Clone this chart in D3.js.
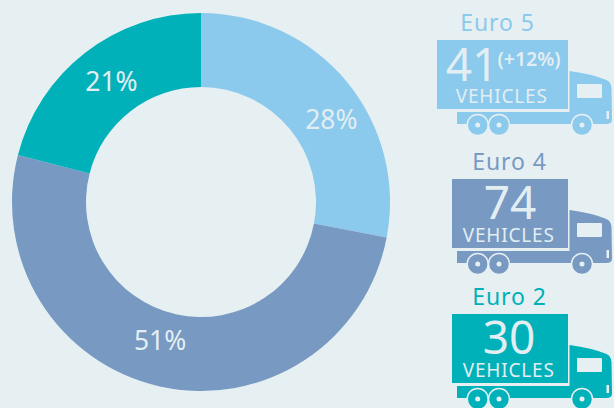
<!DOCTYPE html>
<html>
<head>
<meta charset="utf-8">
<script src="https://cdn.jsdelivr.net/npm/d3@7"></script>
<style>
html, body { margin: 0; padding: 0; background: #e6f0f2; overflow: hidden; }
text { font-family: "Noto Sans", sans-serif; }
</style>
</head>
<body>
<script>
// Values
var categories = ["Euro 5", "Euro 4", "Euro 2"];
var shares = [28, 51, 21];
var vehicles = [41, 74, 30];
var changeLabels = ["(+12%)", "", ""];
var colors = ["#8bc9ed", "#7799c2", "#00b1b9"];

var w = 614;
var h = 408;
var bg = "#e6f0f2";
var textLight = "#e3eef3";

var svg = d3.select("body")
      .append("svg")
      .attr("width", w)
      .attr("height", h)
      .style("display", "block");

// Donut
var pie = d3.pie().sort(null).value(function(d) { return d; });
var arc = d3.arc().innerRadius(115).outerRadius(189);
var labelArc = d3.arc().innerRadius(151).outerRadius(151);

var donut = svg.append("g")
      .attr("transform", "translate(201,202)");

donut.selectAll("path")
      .data(pie(shares))
      .enter()
      .append("path")
      .attr("d", arc)
      .attr("fill", function(d, i) { return colors[i]; });

var labelOffset = [[14, 14], [-8, -9], [3, -1]];
donut.selectAll("text")
      .data(pie(shares))
      .enter()
      .append("text")
      .attr("x", function(d, i) { return labelArc.centroid(d)[0] + labelOffset[i][0]; })
      .attr("y", function(d, i) { return labelArc.centroid(d)[1] + labelOffset[i][1]; })
      .attr("dy", "0.35em")
      .attr("text-anchor", "middle")
      .attr("font-size", 26.5)
      .attr("fill", textLight)
      .text(function(d) { return d.value + "%"; });

// Truck pictograms, one per category
var layout = [
  { boxX: 437, boxY: 40, titleX: 497.5, numX: 472, labelX: 501.7 },
  { boxX: 452, boxY: 179, titleX: 509.5, numX: 510, labelX: 508.7 },
  { boxX: 452, boxY: 314, titleX: 509.5, numX: 509, labelX: 508.7 }
];

function cabPath() {
  // drawn relative to the top of the cargo box, x is absolute
  var p = d3.path();
  p.moveTo(569.5, 31);
  p.quadraticCurveTo(592, 34, 606.5, 40);
  p.quadraticCurveTo(611, 42, 611.5, 48);
  p.lineTo(612, 80);
  p.quadraticCurveTo(612, 84, 606, 84);
  p.lineTo(457, 84);
  p.lineTo(457, 72);
  p.lineTo(569.5, 72);
  p.closePath();
  return p.toString();
}

var trucks = svg.selectAll("g.truck")
      .data(categories)
      .enter()
      .append("g")
      .attr("class", "truck")
      .attr("transform", function(d, i) { return "translate(0," + layout[i].boxY + ")"; });

trucks.append("text")
      .attr("x", function(d, i) { return layout[i].titleX; })
      .attr("y", -9)
      .attr("text-anchor", "middle")
      .attr("font-size", 23)
      .attr("letter-spacing", 0.9)
      .attr("fill", function(d, i) { return colors[i]; })
      .text(function(d) { return d; });

// cargo box
trucks.append("rect")
      .attr("x", function(d, i) { return layout[i].boxX; })
      .attr("y", 0)
      .attr("width", function(d, i) { return 568 - layout[i].boxX; })
      .attr("height", 69)
      .attr("fill", function(d, i) { return colors[i]; });

// cab and chassis
trucks.append("path")
      .attr("d", cabPath())
      .attr("fill", function(d, i) { return colors[i]; });

// window
trucks.append("rect")
      .attr("x", 577)
      .attr("y", 44)
      .attr("width", 25)
      .attr("height", 14)
      .attr("rx", 1)
      .attr("fill", bg);

// headlight
trucks.append("rect")
      .attr("x", 606.5)
      .attr("y", 71)
      .attr("width", 2.5)
      .attr("height", 8)
      .attr("fill", bg);

// wheels
[477.7, 499, 582].forEach(function(cx) {
  trucks.append("circle")
        .attr("cx", cx)
        .attr("cy", 85)
        .attr("r", 10.5)
        .attr("fill", function(d, i) { return colors[i]; })
        .attr("stroke", bg)
        .attr("stroke-width", 1.5);
  trucks.append("circle")
        .attr("cx", cx)
        .attr("cy", 85)
        .attr("r", 2.5)
        .attr("fill", bg);
});

// numbers
trucks.append("text")
      .attr("x", function(d, i) { return layout[i].numX; })
      .attr("y", function(d, i) { return i == 0 ? 41 : 40; })
      .attr("text-anchor", "middle")
      .attr("font-size", 46)
      .attr("fill", textLight)
      .text(function(d, i) { return vehicles[i]; });

trucks.append("text")
      .attr("x", 529)
      .attr("y", 25.5)
      .attr("text-anchor", "middle")
      .attr("font-size", 19.5)
      .attr("font-weight", 600)
      .attr("fill", textLight)
      .text(function(d, i) { return changeLabels[i]; });

trucks.append("text")
      .attr("x", function(d, i) { return layout[i].labelX; })
      .attr("y", 62.7)
      .attr("text-anchor", "middle")
      .attr("font-size", 19)
      .attr("letter-spacing", 0.8)
      .attr("fill", textLight)
      .text("VEHICLES");
</script>
</body>
</html>
